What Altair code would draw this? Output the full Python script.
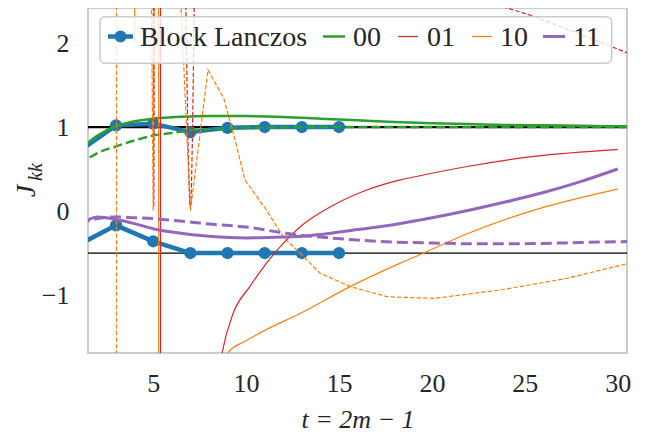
import altair as alt
import pandas as pd

# ---------------- data ----------------
# Block Lanczos (t = 2m - 1)
bl_t = [1, 3, 5, 7, 9, 11, 13, 15]
bl_upper = [0.71, 1.02, 1.04, 0.94, 0.99, 1.00, 1.00, 1.00]
bl_lower = [-0.40, -0.17, -0.36, -0.50, -0.50, -0.50, -0.50, -0.50]

# reference levels (black horizontal lines)
ref_upper = [1.0]
ref_lower = [-0.5]

# series 00
s00_t = [1, 2, 3, 4, 5, 6, 7, 8, 9, 10, 12, 14, 16, 18, 20, 22, 24, 26, 28, 30, 31]
s00_solid = [0.72, 0.90, 1.01, 1.07, 1.10, 1.115, 1.125, 1.13, 1.13, 1.13, 1.12,
             1.10, 1.08, 1.06, 1.045, 1.035, 1.025, 1.02, 1.015, 1.01, 1.01]
s00_dashed = [0.55, 0.69, 0.77, 0.84, 0.90, 0.93, 0.96, 0.975, 0.985, 0.99, 0.995,
              1.0, 1.0, 1.0, 1.0, 1.0, 1.0, 1.0, 1.0, 1.0, 1.0]

# series 01
s01_solid_t = [1, 5.38, 5.41, 8.0, 8.7, 9.3, 10.2, 11.1, 12.0, 12.9, 14.7, 16.5,
               18.3, 19.35, 21.9, 25.5, 30.0]
s01_solid = [60, 60, -60, -3.0, -1.70, -1.22, -0.90, -0.62, -0.385, -0.19, 0.07,
             0.25, 0.37, 0.42, 0.53, 0.65, 0.73]
s01_dashed_t = [1, 4.95, 5.03, 5.12, 6.6, 7.0, 7.4, 15, 20, 23, 25.3, 27.1, 31]
s01_dashed = [60, 12, 0.05, 12, 4.6, 0.05, 4.6, 4.0, 2.9, 2.5, 2.33, 2.18, 1.84]

# series 10
s10_solid_t = [1, 3.97, 4.0, 4.03, 5.28, 5.31, 8.0, 8.96, 10.03, 11.1, 12.9, 15.6,
               18.3, 19.35, 21.9, 25.5, 30.0]
s10_solid = [60, 60, 2.0, 60, 60, -60, -2.5, -1.70, -1.54, -1.41, -1.22, -0.90,
             -0.62, -0.52, -0.27, 0.01, 0.26]
s10_dashed_t = [1, 3.0, 3.05, 4.85, 5.0, 5.1, 6.3, 7.0, 7.95, 8.8, 9.4, 9.94, 11.1,
                12.0, 12.9, 13.98, 15.6, 17.6, 20.1, 23.7, 27.3, 31]
s10_dashed = [-60, -60, 60, 4.0, 0.0, 4.0, 3.4, 0.0, 1.68, 1.34, 0.85, 0.37, 0.01,
              -0.31, -0.50, -0.74, -0.90, -1.02, -1.04, -0.94, -0.80, -0.60]

# series 11
s11_solid_t = [1, 2, 3, 4, 5, 6, 7, 8, 10, 12, 13, 14, 16, 18, 20, 22, 24, 26, 28, 30]
s11_solid = [-0.17, -0.07, -0.10, -0.15, -0.21, -0.25, -0.28, -0.30, -0.32, -0.31,
             -0.30, -0.28, -0.22, -0.16, -0.08, 0.01, 0.11, 0.22, 0.35, 0.50]
s11_dashed_t = [1, 2, 3, 4, 5, 6, 7, 8, 10, 12, 13, 14, 16, 18, 20, 22, 24, 26, 28, 31]
s11_dashed = [-0.15, -0.09, -0.07, -0.08, -0.09, -0.11, -0.13, -0.155, -0.19, -0.26,
              -0.29, -0.31, -0.345, -0.37, -0.38, -0.39, -0.39, -0.385, -0.375, -0.36]

legend_labels = ["Block Lanczos", "00", "01", "10", "11"]

# ---------------- styling ----------------
BLUE, GREEN, RED, ORANGE, PURPLE = "#1f77b4", "#2ca02c", "#d62728", "#ff7f0e", "#9467bd"
FONT = "Liberation Serif"
TXT = "#262626"

XDOM = [1.49, 30.5]
YDOM = [-1.69, 2.417]

xs = alt.Scale(domain=XDOM, nice=False, zero=False)
ys = alt.Scale(domain=YDOM, nice=False, zero=False)

x_axis = alt.Axis(values=[5, 10, 15, 20, 25, 30], title="t = 2m − 1",
                  titleFont=FONT, titleFontSize=26, titleFontStyle="italic",
                  titleFontWeight="normal", titleColor=TXT, titlePadding=10,
                  labelFont=FONT, labelFontSize=26, labelColor=TXT,
                  labelPadding=17, ticks=False, domain=False, grid=False)
y_axis = alt.Axis(values=[-1, 0, 1, 2], title=None, labelFont=FONT,
                  labelFontSize=26, labelColor=TXT, labelPadding=19,
                  ticks=False, domain=False, grid=False)

X = lambda: alt.X("t:Q", scale=xs, axis=x_axis)
Y = lambda: alt.Y("v:Q", scale=ys, axis=y_axis)


def line_layer(t, v, color, width, dash=None, smooth=True):
    df = pd.DataFrame({"t": t, "v": v})
    kw = dict(color=color, strokeWidth=width, clip=True)
    if dash:
        kw["strokeDash"] = dash
    if smooth:
        kw["interpolate"] = "monotone"
    return alt.Chart(df).mark_line(**kw).encode(x=X(), y=Y())


layers = []
# black reference lines
layers.append(alt.Chart(pd.DataFrame({"v": ref_upper})).mark_rule(color="black", strokeWidth=2.2)
              .encode(y=Y()))
layers.append(alt.Chart(pd.DataFrame({"v": ref_lower})).mark_rule(color="black", strokeWidth=1.2)
              .encode(y=Y()))
# Block Lanczos
layers.append(line_layer(bl_t, bl_upper, BLUE, 4.5, smooth=False))
layers.append(line_layer(bl_t, bl_lower, BLUE, 4.5, smooth=False))
bl_pts = pd.DataFrame({"t": bl_t + bl_t, "v": bl_upper + bl_lower})
layers.append(alt.Chart(bl_pts).mark_circle(color=BLUE, size=150, opacity=1, clip=True)
              .encode(x=X(), y=Y()))

# other series
layers.append(line_layer(s00_t, s00_solid, GREEN, 2.5))
layers.append(line_layer(s00_t, s00_dashed, GREEN, 2.5, dash=[9, 4]))
layers.append(line_layer(s01_solid_t, s01_solid, RED, 1.2))
layers.append(line_layer(s01_dashed_t, s01_dashed, RED, 1.2, dash=[4.5, 2]))
layers.append(line_layer(s10_solid_t, s10_solid, ORANGE, 1.2))
layers.append(line_layer(s10_dashed_t, s10_dashed, ORANGE, 1.2, dash=[4.5, 2], smooth=False))
layers.append(line_layer(s11_solid_t, s11_solid, PURPLE, 3))
layers.append(line_layer(s11_dashed_t, s11_dashed, PURPLE, 3, dash=[11, 5]))

# ---------------- legend (drawn in pixel space of the plot) ----------------
one = pd.DataFrame({"k": [0]})
layers.append(alt.Chart(one).mark_rect(fill="white", fillOpacity=0.8, stroke="#cccccc",
                                       strokeWidth=1.5, cornerRadius=5)
              .encode(x=alt.value(12), x2=alt.value(523.7), y=alt.value(8.7), y2=alt.value(55.3)))
leg_colors = [BLUE, GREEN, RED, ORANGE, PURPLE]
leg_widths = [4.5, 2.5, 1.2, 1.2, 3]
leg_line_x = [(20, 45), (235, 257), (310, 330), (384, 404), (455, 477)]
leg_text_x = [52, 265, 339, 412, 485]
LEG_Y = 28.5
for lab, col, w, (x0, x1), xt in zip(legend_labels, leg_colors, leg_widths, leg_line_x, leg_text_x):
    layers.append(alt.Chart(one).mark_rule(color=col, strokeWidth=w)
                  .encode(x=alt.value(x0), x2=alt.value(x1), y=alt.value(LEG_Y)))
    layers.append(alt.Chart(one).mark_text(text=lab, font=FONT, fontSize=28, color=TXT,
                                           align="left", baseline="middle")
                  .encode(x=alt.value(xt), y=alt.value(LEG_Y + 1.5)))
layers.append(alt.Chart(one).mark_circle(color=BLUE, size=140, opacity=1)
              .encode(x=alt.value(32.5), y=alt.value(LEG_Y)))

# ---------------- y-axis title J_kk ----------------
layers.append(alt.Chart(one).mark_text(text="J", font=FONT, fontSize=28, fontStyle="italic",
                                       color=TXT, angle=270, align="center", baseline="middle")
              .encode(x=alt.value(-61), y=alt.value(183)))
layers.append(alt.Chart(one).mark_text(text="kk", font=FONT, fontSize=20, fontStyle="italic",
                                       color=TXT, angle=270, align="center", baseline="middle")
              .encode(x=alt.value(-52), y=alt.value(164)))

chart = alt.layer(*layers).properties(
    width=539, height=345,
    padding={"left": 80, "top": 0, "right": 25, "bottom": 80},
    autosize=alt.AutoSizeParams(type="none"),
    background="white",
).configure_view(stroke="#cccccc", strokeWidth=2
).configure_axis(labelFont=FONT, titleFont=FONT
).configure_text(font=FONT)

chart.save("out.html", embed_options={"renderer": "svg", "actions": False})
